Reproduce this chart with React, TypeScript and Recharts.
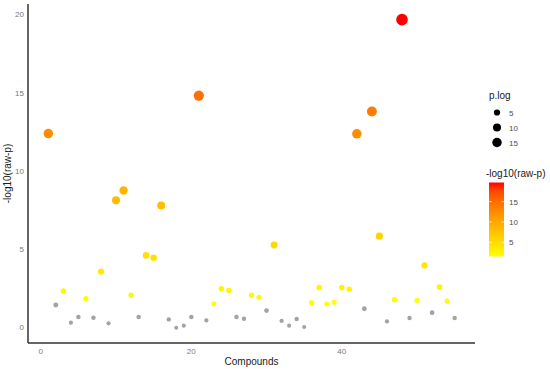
import React from 'react';
import { ScatterChart, Scatter, XAxis, YAxis, ZAxis, Cell, Label, Customized } from 'recharts';

const compounds = [
  1, 2, 3, 4, 5, 6, 7, 8, 9, 10, 11, 12, 13, 14, 15, 16, 17, 18, 19, 20,
  21, 22, 23, 24, 25, 26, 27, 28, 29, 30, 31, 32, 33, 34, 35, 36, 37, 38, 39, 40,
  41, 42, 43, 44, 45, 46, 47, 48, 49, 50, 51, 52, 53, 54, 55,
];
const negLog10P = [
  12.42, 1.46, 2.35, 0.33, 0.69, 1.86, 0.65, 3.59, 0.29, 8.16, 8.78, 2.08, 0.69, 4.63, 4.48, 7.82, 0.54, 0.01, 0.14, 0.69,
  14.85, 0.48, 1.54, 2.5, 2.39, 0.69, 0.58, 2.08, 1.95, 1.1, 5.29, 0.44, 0.14, 0.56, 0.05, 1.61, 2.57, 1.52, 1.63, 2.57,
  2.46, 12.4, 1.22, 13.83, 5.86, 0.41, 1.8, 19.7, 0.63, 1.76, 3.99, 0.97, 2.61, 1.71, 0.63,
];
const xTicks = [0, 20, 40];
const yTicks = [0, 5, 10, 15, 20];
const sizeLegendValues = [5, 10, 15];
const colorLegendTicks = [5, 10, 15];
const sigThreshold = 1.5;

const FONT = '"Liberation Sans", Arial, sans-serif';
const GRAY = '#A3A3A3';
const TICK_COLOR = '#7a7a7a';

// ---- Lab interpolation yellow -> red (like ggplot scale_colour_gradient) ----
function toLin(c: number) { c /= 255; return c <= 0.04045 ? c / 12.92 : Math.pow((c + 0.055) / 1.055, 2.4); }
function fromLin(c: number) { const v = c <= 0.0031308 ? 12.92 * c : 1.055 * Math.pow(c, 1 / 2.4) - 0.055; return Math.max(0, Math.min(255, Math.round(v * 255))); }
const Xn = 0.95047, Yn = 1.0, Zn = 1.08883;
function f(t: number) { return t > 216 / 24389 ? Math.cbrt(t) : (t * 24389 / 27 + 16) / 116; }
function fi(t: number) { return t * t * t > 216 / 24389 ? t * t * t : (116 * t - 16) * 27 / 24389; }
function rgbToLab([r, g, b]: number[]) {
  const R = toLin(r), G = toLin(g), B = toLin(b);
  const X = 0.4124 * R + 0.3576 * G + 0.1805 * B;
  const Y = 0.2126 * R + 0.7152 * G + 0.0722 * B;
  const Z = 0.0193 * R + 0.1192 * G + 0.9505 * B;
  const fx = f(X / Xn), fy = f(Y / Yn), fz = f(Z / Zn);
  return [116 * fy - 16, 500 * (fx - fy), 200 * (fy - fz)];
}
function labToRgb([L, a, b]: number[]) {
  const fy = (L + 16) / 116, fx = fy + a / 500, fz = fy - b / 200;
  const X = Xn * fi(fx), Y = Yn * fi(fy), Z = Zn * fi(fz);
  const R = 3.2406 * X - 1.5372 * Y - 0.4986 * Z;
  const G = -0.9689 * X + 1.8758 * Y + 0.0415 * Z;
  const B = 0.0557 * X - 0.204 * Y + 1.057 * Z;
  return [fromLin(R), fromLin(G), fromLin(B)];
}
const LOW = rgbToLab([255, 255, 0]);
const HIGH = rgbToLab([255, 0, 0]);
function hex(n: number) { return n.toString(16).padStart(2, '0'); }
function gradColor(t: number) {
  const tt = Math.max(0, Math.min(1, t));
  const lab = LOW.map((v, i) => v + (HIGH[i] - v) * tt);
  const [r, g, b] = labToRgb(lab);
  return `#${hex(r)}${hex(g)}${hex(b)}`;
}
const sig = negLog10P.filter((v) => v >= sigThreshold);
const cMin = Math.min(...sig);
const cMax = Math.max(...sig);
const colorFor = (v: number) => (v >= sigThreshold ? gradColor((v - cMin) / (cMax - cMin)) : GRAY);

const zMin = 0;
const zMax = Math.max(...negLog10P);
const AREA_MIN = Math.PI * 2.0 * 2.0;
const AREA_MAX = Math.PI * 5.8 * 5.8;
const radiusFor = (v: number) => Math.sqrt((AREA_MIN + (AREA_MAX - AREA_MIN) * (v - zMin) / (zMax - zMin)) / Math.PI);

const data = compounds.map((c, i) => ({ compound: c, p: negLog10P[i], z: negLog10P[i] }));

const YTick = (props: any) => {
  const { y, payload } = props;
  return (
    <text x={24} y={y} textAnchor="end" dominantBaseline="central" fontSize={8} fill={TICK_COLOR} fontFamily={FONT}>
      {payload.value}
    </text>
  );
};

const XTick = (props: any) => {
  const { x, payload } = props;
  return (
    <text x={x} y={351} textAnchor="middle" dominantBaseline="central" fontSize={8} fill={TICK_COLOR} fontFamily={FONT}>
      {payload.value}
    </text>
  );
};

const LegendBlock = () => {
  const barX = 489, barY = 182.5, barW = 15, barH = 74;
  const valToY = (v: number) => barY + barH - ((v - cMin) / (cMax - cMin)) * barH;
  const stops = Array.from({ length: 11 }, (_, i) => i / 10);
  return (
    <g fontFamily={FONT}>
      <text x={489} y={99} fontSize={10} fill="#1a1a1a">p.log</text>
      {sizeLegendValues.map((v, i) => {
        const cy = 112.5 + i * 15;
        return (
          <g key={v}>
            <circle cx={497} cy={cy} r={radiusFor(v) * 0.92} fill="#000" />
            <text x={509} y={cy + 3} fontSize={8} fill="#4D4D4D">{v}</text>
          </g>
        );
      })}
      <text x={486} y={177} fontSize={10} fill="#1a1a1a">-log10(raw-p)</text>
      <defs>
        <linearGradient id="cbar" x1="0" y1="1" x2="0" y2="0">
          {stops.map((s) => (
            <stop key={s} offset={s} stopColor={gradColor(s)} />
          ))}
        </linearGradient>
      </defs>
      <rect x={barX} y={barY} width={barW} height={barH} fill="url(#cbar)" />
      {colorLegendTicks.map((v) => {
        const y = valToY(v);
        return (
          <g key={v}>
            <line x1={barX} x2={barX + 3} y1={y} y2={y} stroke="#fff" strokeWidth={0.6} />
            <line x1={barX + barW - 3} x2={barX + barW} y1={y} y2={y} stroke="#fff" strokeWidth={0.6} />
            <text x={509} y={y + 3} fontSize={8} fill="#4D4D4D">{v}</text>
          </g>
        );
      })}
    </g>
  );
};

export default function App() {
  return (
    <div style={{ position: 'absolute', left: 0, top: 0, width: 550, height: 369, background: '#fff' }}>
      <ScatterChart width={550} height={369} margin={{ top: 4, right: 75, bottom: 0, left: 0 }}>
        <XAxis
          type="number"
          dataKey="compound"
          domain={[-1.7, 57.7]}
          ticks={xTicks}
          allowDataOverflow
          height={26}
          tickLine={false}
          axisLine={{ stroke: '#333', strokeWidth: 1.5 }}
          tick={<XTick />}
        >
          <Label
            content={({ viewBox }: any) => {
              const { x, width } = viewBox;
              return (
                <text x={x + width / 2} y={365} textAnchor="middle" fontSize={10} fill="#1a1a1a" fontFamily={FONT}>
                  Compounds
                </text>
              );
            }}
          />
        </XAxis>
        <YAxis
          type="number"
          dataKey="p"
          domain={[-0.97, 20.7]}
          ticks={yTicks}
          allowDataOverflow
          width={28}
          tickLine={false}
          axisLine={{ stroke: '#333', strokeWidth: 1.5 }}
          tick={<YTick />}
        >
          <Label
            content={({ viewBox }: any) => {
              const { y, height } = viewBox;
              const cx = 7;
              const cy = y + height / 2;
              return (
                <text
                  x={cx}
                  y={cy}
                  transform={`rotate(-90 ${cx} ${cy})`}
                  textAnchor="middle"
                  dominantBaseline="central"
                  fontSize={10}
                  fill="#1a1a1a"
                  fontFamily={FONT}
                >
                  -log10(raw-p)
                </text>
              );
            }}
          />
        </YAxis>
        <ZAxis type="number" dataKey="z" domain={[zMin, zMax]} range={[AREA_MIN, AREA_MAX]} />
        <Scatter data={data} isAnimationActive={false} shape="circle">
          {data.map((d) => (
            <Cell key={d.compound} fill={colorFor(d.p)} />
          ))}
        </Scatter>
        <Customized component={LegendBlock} />
      </ScatterChart>
    </div>
  );
}
